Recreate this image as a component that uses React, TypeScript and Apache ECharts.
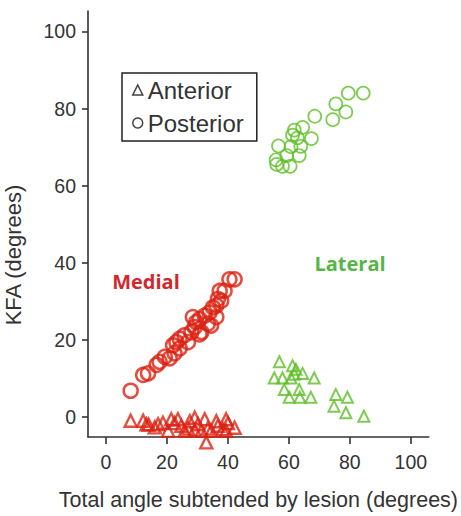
import React, { useEffect, useRef } from "react";
import * as echarts from "echarts";

const xTicks = [0, 20, 40, 60, 80, 100];
const yTicks = [0, 20, 40, 60, 80, 100];

const medialPosterior: [number, number][] = [
  [8.1, 6.8], [12.2, 10.9], [13.8, 11.3], [16.6, 13.5], [17.6, 14.3], [19.3, 15.6],
  [20.9, 15.2], [22.5, 16.5], [22, 18.6], [23.1, 19.4], [24.2, 17.8], [24.2, 20.3],
  [25.8, 21.2], [26.9, 19.4], [28, 22], [28.5, 25.9], [29.1, 23.3], [29.6, 24.6],
  [30.7, 25.4], [30.7, 21.4], [31.3, 22], [32.4, 26.3], [33.4, 24.2], [34.5, 23.7],
  [34, 27.1], [35.1, 28.4], [36.2, 28.9], [36.2, 25.9], [36.7, 30.6], [37.8, 30.1],
  [37.3, 32.7], [38.9, 32.7], [40.5, 35.7], [42.2, 35.7],
];

const medialAnterior: [number, number][] = [
  [8.1, -1], [12.2, -1], [13.3, -1.9], [14, -2], [16, -2.7], [17.1, -1.9], [18.7, -1.5],
  [20.4, -3.6], [21.4, -0.6], [22.5, -1.6], [23.6, -0.6], [24.7, -2.3], [25.8, -3.6],
  [26.9, -3], [27.5, -1.1], [29.1, -0.2], [29.1, -3.4], [30.2, -1.9], [31.3, -3.6],
  [32.4, -0.6], [32.9, -6.6], [33.4, -3], [34.5, -3.6], [36.2, -1.1], [36.7, -2.3],
  [38.3, -3.2], [39.4, -0.6], [40, -1.6], [39.4, -3.6], [42.2, -2.8],
];

const lateralPosterior: [number, number][] = [
  [84.4, 84], [79.5, 84], [75.4, 81.2], [78.7, 79.1], [74.4, 77.1], [68.5, 78],
  [64.5, 75.1], [61.8, 74.4], [61.2, 73.1], [62.8, 72.4], [67.4, 72.2], [56.6, 70.3],
  [60.7, 70.1], [63.9, 70.2], [59.3, 67.8], [63.4, 67.8], [55.8, 66.7], [56, 65.5],
  [57.9, 65], [60.4, 65],
];

const lateralAnterior: [number, number][] = [
  [56.9, 14.3], [61.2, 13.3], [62.3, 12.4], [64.5, 11.3], [61.8, 11.1], [55.2, 10.1],
  [57.9, 10.1], [60.7, 10.1], [68.3, 10.1], [58.5, 7.1], [63.4, 7.1], [60.1, 5.1],
  [63.6, 5.1], [67.2, 5.1], [75.4, 5.8], [79.2, 5.1], [74.8, 2.8], [78.7, 1.1], [84.6, 0.2],
];

const RED = "#dc2211";
const GREEN = "#5cbf26";
const AXIS = "#333333";
const FONT = "'Liberation Sans', Arial, sans-serif";

export default function App() {
  const ref = useRef<HTMLDivElement>(null);

  useEffect(() => {
    document.body.style.margin = "0";
    if (!ref.current) return;
    const chart = echarts.init(ref.current, null, { renderer: "svg" });

    const hollow = (c: string, w: number) => ({ color: "rgba(0,0,0,0)", borderColor: c, borderWidth: w });

    chart.setOption({
      animation: false,
      backgroundColor: "#ffffff",
      grid: { left: 88, top: 11, width: 342, height: 432, containLabel: false },
      xAxis: {
        type: "value",
        min: -5.9,
        max: 105.9,
        name: "Total angle subtended by lesion (degrees)",
        nameLocation: "middle",
        nameGap: 52,
        nameTextStyle: { fontSize: 21.5, color: AXIS, fontFamily: FONT },
        axisLine: { show: true, onZero: false, lineStyle: { color: AXIS, width: 1.6 } },
        axisTick: { show: true, length: 7, customValues: xTicks, lineStyle: { color: AXIS, width: 1.6 } },
        axisLabel: { customValues: xTicks, fontSize: 19.5, color: AXIS, fontFamily: FONT, margin: 15 },
        splitLine: { show: false },
      },
      yAxis: {
        type: "value",
        min: -5.2,
        max: 105.3,
        axisLine: { show: true, onZero: false, lineStyle: { color: AXIS, width: 1.6 } },
        axisTick: { show: true, length: 6, customValues: yTicks, lineStyle: { color: AXIS, width: 1.6 } },
        axisLabel: { customValues: yTicks, fontSize: 19.5, color: AXIS, fontFamily: FONT, margin: 12 },
        splitLine: { show: false },
      },
      legend: {
        orient: "vertical",
        left: 122,
        top: 73,
        padding: [5, 13, 6, 10],
        itemGap: 9,
        itemWidth: 10,
        itemHeight: 10,
        borderColor: "#222",
        borderWidth: 1.5,
        selectedMode: false,
        textStyle: { fontSize: 24, color: AXIS, fontFamily: FONT },
        data: [
          { name: "Anterior", icon: "triangle", itemStyle: hollow("#111", 1.5) },
          { name: "Posterior", icon: "circle", itemStyle: hollow("#111", 1.5) },
        ],
      },
      graphic: [
        {
          type: "text",
          x: 13,
          y: 255,
          rotation: Math.PI / 2,
          style: {
            text: "KFA (degrees)",
            fontSize: 22,
            fontFamily: FONT,
            fill: AXIS,
            align: "center",
            verticalAlign: "middle",
          },
        },
        {
          type: "text",
          x: 146,
          y: 281,
          style: {
            text: "Medial",
            fontSize: 20,
            fontWeight: "bold",
            fontFamily: "'Open Sans', sans-serif",
            fill: "#d0282e",
            align: "center",
            verticalAlign: "middle",
          },
        },
        {
          type: "text",
          x: 350,
          y: 263,
          style: {
            text: "Lateral",
            fontSize: 20,
            fontWeight: "bold",
            fontFamily: "'Open Sans', sans-serif",
            fill: "#55b545",
            align: "center",
            verticalAlign: "middle",
          },
        },
      ],
      series: [
        { name: "Anterior", type: "scatter", data: [], symbol: "triangle", itemStyle: hollow("#111", 1.5) },
        { name: "Posterior", type: "scatter", data: [], symbol: "circle", itemStyle: hollow("#111", 1.5) },
        {
          name: "Medial Anterior", type: "scatter", clip: false, data: medialAnterior,
          symbol: "triangle", symbolSize: 12, itemStyle: hollow(RED, 2.4),
        },
        {
          name: "Medial Posterior", type: "scatter", clip: false, data: medialPosterior,
          symbol: "circle", symbolSize: 14, itemStyle: hollow(RED, 2.5),
        },
        {
          name: "Lateral Anterior", type: "scatter", clip: false, data: lateralAnterior,
          symbol: "triangle", symbolSize: 11, itemStyle: hollow(GREEN, 2),
        },
        {
          name: "Lateral Posterior", type: "scatter", clip: false, data: lateralPosterior,
          symbol: "circle", symbolSize: 13, itemStyle: hollow(GREEN, 1.7),
        },
      ],
    });

    return () => chart.dispose();
  }, []);

  return <div ref={ref} style={{ width: 461, height: 516 }} />;
}
